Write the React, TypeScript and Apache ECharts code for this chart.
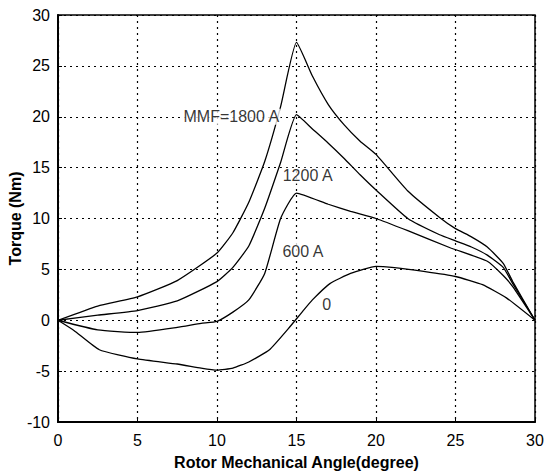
import React, { useEffect, useRef } from "react";
import * as echarts from "echarts";

const xTicks = [0, 5, 10, 15, 20, 25, 30];
const yRange = { min: -10, max: 30, interval: 5 };

const mmf1800: [number, number][] = [
  [0, 0], [2.5, 1.4], [5, 2.3], [7.5, 3.9], [10, 6.6], [11, 8.6], [12, 11.6], [13, 15.6],
  [14, 21], [15, 27.3], [16, 24], [17, 21.2], [18, 19.2], [19, 17.6], [20, 16.3],
  [22, 12.7], [24, 10.1], [25, 9.0], [26, 8.2], [27, 7.2], [28, 5.6], [28.6, 3.8], [30, 0],
];
const mmf1200: [number, number][] = [
  [0, 0], [2.5, 0.5], [5, 0.95], [7.5, 1.9], [10, 3.8], [11, 5.2], [12, 7.3], [13, 11],
  [14, 15.5], [15, 20.2], [16, 18.8], [17, 17.4], [18, 15.9], [19, 14.3], [20, 12.8],
  [22, 10.0], [24, 8.4], [25, 7.8], [26, 7.2], [27, 6.4], [28, 5.2], [28.6, 3.6], [30, 0],
];
const mmf600: [number, number][] = [
  [0, 0], [2.5, -0.95], [5, -1.2], [7.5, -0.7], [9, -0.3], [10, -0.1], [11, 0.8], [12, 2.0],
  [13, 4.6], [14, 10], [15, 12.5], [17, 11.4], [18.4, 10.7], [20, 10], [22, 8.8],
  [24.7, 7.1], [27, 5.8], [28, 4.4], [28.6, 3.3], [30, 0],
];
const mmf0: [number, number][] = [
  [0, 0], [1, -1], [2.6, -2.9], [5, -3.8], [7.5, -4.3], [9, -4.7], [10, -4.9], [11, -4.7],
  [12, -4.1], [13.3, -2.9], [14.5, -0.8], [15.4, 0.9], [16, 2.0], [17.1, 3.6], [18.4, 4.6],
  [20, 5.3], [21, 5.2], [23, 4.8], [25, 4.3], [26.7, 3.5], [28.2, 2.2], [30, 0],
];

const curveLabels: [number, number, string][] = [
  [10.9, 20, "MMF=1800 A"],
  [15.7, 14.2, "1200 A"],
  [15.4, 6.8, "600 A"],
  [16.9, 1.5, "0"],
];

const FONT = "'Liberation Sans', Arial, Helvetica, sans-serif";

export default function App() {
  const ref = useRef<HTMLDivElement>(null);
  useEffect(() => {
    if (!ref.current) return;
    const chart = echarts.init(ref.current, undefined, { renderer: "svg" });
    const lineSeries = (data: [number, number][]) => ({
      type: "line",
      data,
      showSymbol: false,
      symbol: "none",
      smooth: 0.15,
      lineStyle: { color: "#000", width: 1.3 },
      z: 3,
    });
    chart.setOption({
      animation: false,
      backgroundColor: "#fff",
      grid: {
        left: 58, right: 10, top: 15, bottom: 50,
        containLabel: false,
        outerBoundsMode: "none",
        show: true, borderColor: "#000", borderWidth: 1.5,
      },
      xAxis: {
        type: "value",
        min: xTicks[0],
        max: xTicks[xTicks.length - 1],
        interval: 5,
        name: "Rotor Mechanical Angle(degree)",
        nameLocation: "middle",
        nameGap: 32,
        nameMoveOverlap: false,
        nameTextStyle: { fontFamily: FONT, fontSize: 16, fontWeight: "bold", color: "#000" },
        axisLine: { show: true, onZero: false, lineStyle: { color: "#000", width: 2 } },
        axisTick: { show: true, inside: true, length: 4, lineStyle: { color: "#000" } },
        axisLabel: { fontFamily: FONT, fontSize: 16, color: "#000", margin: 10 },
        splitLine: { show: true, lineStyle: { color: "#000", type: [2, 4], width: 1.2 } },
      },
      yAxis: {
        type: "value",
        min: yRange.min,
        max: yRange.max,
        interval: yRange.interval,
        name: "Torque (Nm)",
        nameLocation: "middle",
        nameGap: 35,
        nameMoveOverlap: false,
        nameTextStyle: { fontFamily: FONT, fontSize: 16, fontWeight: "bold", color: "#000" },
        axisLine: { show: true, onZero: false, lineStyle: { color: "#000", width: 2 } },
        axisTick: { show: true, inside: true, length: 4, lineStyle: { color: "#000" } },
        axisLabel: { fontFamily: FONT, fontSize: 16, color: "#000", margin: 8 },
        splitLine: { show: true, lineStyle: { color: "#000", type: [2, 4], width: 1.2 } },
      },
      series: [
        lineSeries(mmf1800),
        lineSeries(mmf1200),
        lineSeries(mmf600),
        lineSeries(mmf0),
        {
          type: "scatter",
          data: curveLabels.map((d) => ({ value: [d[0], d[1]], name: d[2] })),
          symbolSize: 0,
          z: 5,
          label: {
            show: true,
            position: "inside",
            formatter: (p: any) => p.name,
            fontFamily: FONT,
            fontSize: 16,
            color: "#000",
            backgroundColor: "#fff",
            padding: [0, 1],
          },
        },
      ],
    });
    return () => chart.dispose();
  }, []);
  return (
    <div
      ref={ref}
      style={{ position: "fixed", left: 0, top: 0, width: 545, height: 472, background: "#fff" }}
    />
  );
}
